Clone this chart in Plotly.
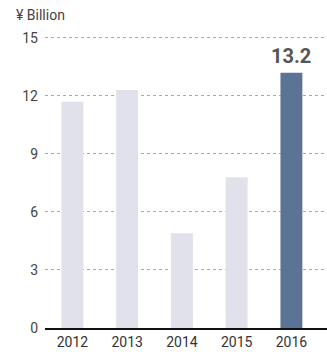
import plotly.graph_objects as go

years = ["2012", "2013", "2014", "2015", "2016"]
values = [11.7, 12.3, 4.9, 7.8, 13.2]
colors = ["#E0E1EA", "#E0E1EA", "#E0E1EA", "#E0E1EA", "#5B7394"]
y_ticks = [0, 3, 6, 9, 12, 15]
unit_label = "¥ Billion"
highlight_label = "13.2"

fig = go.Figure()
fig.add_trace(go.Bar(x=list(range(len(years))), y=values, marker_color=colors,
                     marker_line_width=0, width=0.4, hoverinfo="skip"))

fig.add_annotation(x=4, y=values[4], text="<b>" + highlight_label + "</b>", showarrow=False,
                   yanchor="bottom", yshift=3, font=dict(family="Roboto", size=20, color="#555555"))
fig.add_annotation(xref="paper", yref="y", x=-0.11, y=15, xanchor="left", yanchor="bottom",
                   yshift=13, text=unit_label, showarrow=False,
                   font=dict(family="Roboto", size=14, color="#444444"))

fig.update_layout(
    width=327, height=352, margin=dict(l=45, r=0, t=34, b=24),
    paper_bgcolor="white", plot_bgcolor="white", showlegend=False,
    font=dict(family="Roboto", color="#444444", size=14),
    xaxis=dict(range=[-0.5, 4.65], tickmode="array", tickvals=list(range(len(years))),
               ticktext=years, showgrid=False, showline=True, linecolor="#111111", linewidth=2,
               ticks="", zeroline=False, tickfont=dict(size=14, color="#333333")),
    yaxis=dict(range=[0, 15.2], tickmode="array", tickvals=y_ticks, showgrid=True,
               gridcolor="#A8A8A8", griddash="3px,3px", gridwidth=1, zeroline=False,
               showline=False, ticks="", ticklabelstandoff=6,
               tickfont=dict(size=14, color="#444444")),
)
fig.write_html("out.html")
